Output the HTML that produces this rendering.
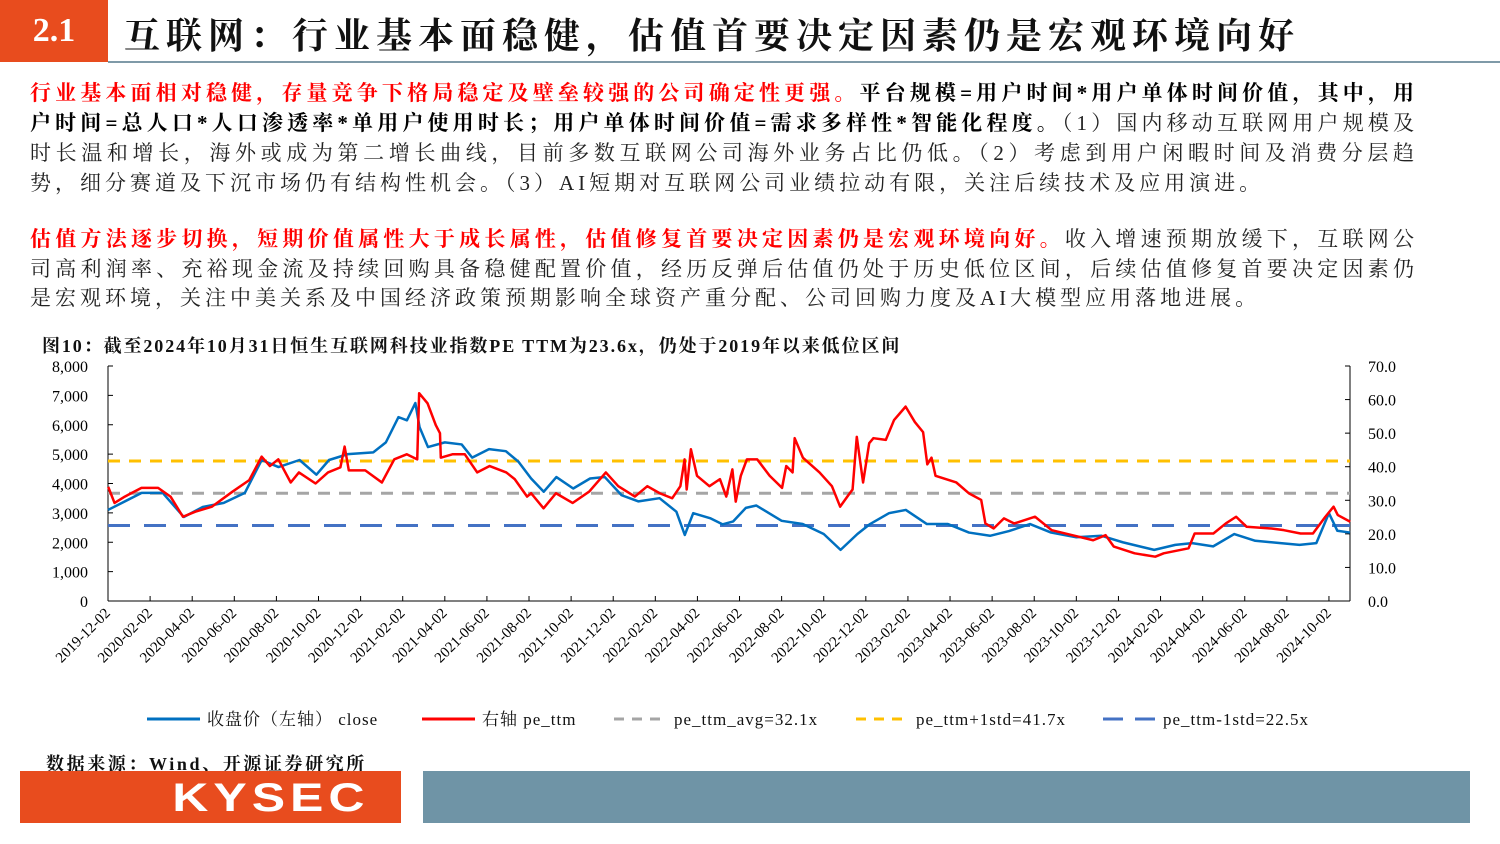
<!DOCTYPE html>
<html><head><meta charset="utf-8">
<style>
body{margin:0;width:1500px;height:844px;background:#fff;position:relative;overflow:hidden;font-family:"Liberation Serif","Noto Serif CJK SC",serif;}
.abs{position:absolute;}
.line{position:absolute;left:30px;width:1384px;font-size:21px;line-height:30px;height:30px;text-align:justify;text-align-last:justify;white-space:nowrap;color:#222;}
.last{text-align-last:left;letter-spacing:4px;}
.r{color:#ff0000;font-weight:bold;}
.b{font-weight:bold;color:#000;}
</style></head><body>
<div class="abs" style="left:0;top:0;width:108px;height:62px;background:#e84c1e;color:#fff;font-size:34px;font-weight:bold;line-height:62px;text-align:center;">2.1</div>
<div class="abs" style="left:124px;top:8px;font-size:36px;font-weight:bold;letter-spacing:6px;color:#111;white-space:nowrap;">互联网：行业基本面稳健，估值首要决定因素仍是宏观环境向好</div>
<div class="abs" style="left:108px;top:61px;width:1392px;height:2px;background:#7f9aa8;"></div>

<div>
<div class="line" style="top:78px"><span class="r">行业基本面相对稳健，存量竞争下格局稳定及壁垒较强的公司确定性更强。</span><span class="b">平台规模=用户时间*用户单体时间价值，其中，用</span></div>
<div class="line" style="top:108px"><span class="b">户时间=总人口*人口渗透率*单用户使用时长；用户单体时间价值=需求多样性*智能化程度。</span>（1）国内移动互联网用户规模及</div>
<div class="line" style="top:138px">时长温和增长，海外或成为第二增长曲线，目前多数互联网公司海外业务占比仍低。（2）考虑到用户闲暇时间及消费分层趋</div>
<div class="line last" style="top:168px">势，细分赛道及下沉市场仍有结构性机会。（3）AI短期对互联网公司业绩拉动有限，关注后续技术及应用演进。</div>
</div>
<div>
<div class="line" style="top:224px"><span class="r">估值方法逐步切换，短期价值属性大于成长属性，估值修复首要决定因素仍是宏观环境向好。</span>收入增速预期放缓下，互联网公</div>
<div class="line" style="top:254px">司高利润率、充裕现金流及持续回购具备稳健配置价值，经历反弹后估值仍处于历史低位区间，后续估值修复首要决定因素仍</div>
<div class="line last" style="top:283px">是宏观环境，关注中美关系及中国经济政策预期影响全球资产重分配、公司回购力度及AI大模型应用落地进展。</div>
</div>

<div class="abs" style="left:42px;top:332px;font-size:18px;font-weight:bold;letter-spacing:1.9px;color:#111;white-space:nowrap;">图10：截至2024年10月31日恒生互联网科技业指数PE TTM为23.6x，仍处于2019年以来低位区间</div>

<svg id="chart" class="abs" style="left:0;top:0" width="1500" height="844"></svg>

<div class="abs" style="left:46px;top:750px;font-size:18px;font-weight:bold;letter-spacing:2.6px;color:#111;white-space:nowrap;">数据来源：Wind、开源证券研究所</div>
<div class="abs" style="left:20px;top:771px;width:381px;height:52px;background:#e84c1e;color:#fff;font-family:'Liberation Sans',sans-serif;font-weight:bold;font-size:40px;line-height:54px;text-align:center;letter-spacing:4px;"><span style="display:inline-block;transform:scaleX(1.25);margin-left:110px;text-align:left;width:150px;">KYSEC</span></div>
<div class="abs" style="left:423px;top:771px;width:1047px;height:52px;background:#6f94a6;"></div>

<script>
const closeT=[0,1.6,2.6,3.6,4.5,5.5,6.5,7.3,8.1,9.1,9.9,10.5,11.4,12.6,13.2,13.8,14.2,14.6,14.8,15.2,16.0,16.8,17.3,18.1,18.9,19.5,20.1,20.7,21.3,22.1,22.9,23.6,24.4,25.2,26.2,27.0,27.4,27.8,28.6,29.2,29.7,30.3,30.8,32.0,33.0,34.0,34.8,35.6,36.2,37.1,37.9,38.9,39.9,40.9,41.9,42.8,43.8,44.8,46.0,47.2,48.2,49.7,50.7,51.5,52.5,53.5,54.5,55.7,56.6,57.4,58.0,58.4,59.0];
const closeV=[3100,3680,3680,2860,3200,3340,3680,4800,4560,4800,4300,4800,5000,5060,5400,6260,6150,6740,5920,5240,5400,5330,4880,5170,5100,4740,4170,3720,4220,3830,4170,4220,3600,3390,3500,3040,2250,2990,2820,2610,2710,3170,3250,2730,2620,2280,1740,2280,2620,2990,3100,2620,2620,2330,2220,2380,2620,2330,2170,2220,2000,1740,1910,1970,1860,2280,2050,1970,1910,1970,2990,2390,2330];
const peT=[0.01,0.31,0.80,1.59,2.38,2.97,3.56,4.15,4.94,5.92,6.71,7.30,7.69,8.09,8.68,9.07,9.86,10.45,11.04,11.24,11.44,12.22,13.01,13.60,14.19,14.69,14.78,15.18,15.57,15.77,15.81,16.36,16.95,17.54,18.13,18.92,19.32,19.91,20.10,20.69,21.28,22.07,22.86,23.65,24.24,25.03,25.62,26.21,26.80,27.19,27.39,27.49,27.69,27.98,28.57,29.07,29.37,29.66,29.82,30.06,30.35,30.84,31.43,32.02,32.22,32.52,32.62,33.01,33.80,34.39,34.78,35.18,35.37,35.57,35.87,36.16,36.36,36.95,37.34,37.89,38.33,38.72,38.92,39.12,39.31,40.30,40.89,41.48,41.68,42.07,42.56,43.05,44.04,44.83,45.81,46.80,47.39,47.78,48.77,49.75,50.15,51.33,51.62,52.51,53.10,53.59,54.09,55.27,55.86,56.65,57.24,57.83,58.22,58.42,59.01];
const peV=[34.0,29.2,31.1,33.7,33.7,31.1,25.1,26.6,28.1,32.6,36.0,43.0,40.2,42.2,35.3,38.3,35.0,38.3,39.8,46.0,38.9,38.9,35.3,42.2,43.7,42.2,61.9,58.9,52.4,50.0,42.7,43.7,43.7,38.3,40.2,38.3,36.3,31.1,32.1,27.6,32.1,29.2,32.6,38.3,34.2,31.1,34.2,32.1,30.6,34.2,42.2,33.2,45.2,37.3,34.2,36.3,31.1,39.2,29.6,37.3,42.2,42.2,37.3,33.7,40.2,38.3,48.5,42.7,38.3,34.2,28.1,31.6,33.2,48.9,35.3,47.0,48.5,48.0,53.9,57.9,53.3,50.3,40.7,42.7,37.3,35.3,32.1,30.1,23.1,21.6,24.6,23.1,25.1,21.1,19.6,18.1,19.6,16.2,14.2,13.2,14.2,15.7,20.1,20.1,23.1,25.1,22.1,21.6,21.1,20.1,20.1,25.1,28.1,25.6,23.6];
const leftTicks=[0,1000,2000,3000,4000,5000,6000,7000,8000];
const rightTicks=[0,10,20,30,40,50,60,70];
const refNames=["pe_ttm_avg=32.1x","pe_ttm+1std=41.7x","pe_ttm-1std=22.5x"];
const refValues=[32.1,41.7,22.5];
const refColors=["#a5a5a5","#ffc000","#4472c4"];
const xLabels=[];
for(let i=0;i<30;i++){const m=11+2*i;const y=2019+Math.floor(m/12);const mm=(m%12)+1;xLabels.push(y+"-"+String(mm).padStart(2,"0")+"-02");}

const X0=108,X1=1350,Y0=601,Y1=366,TMAX=59;
const xs=t=>X0+t/TMAX*(X1-X0);
const yl=v=>Y0-v/8000*(Y0-Y1);
const yr=v=>Y0-v/70*(Y0-Y1);
const svg=document.getElementById('chart');
const NS="http://www.w3.org/2000/svg";
function mk(tag,attrs){const e=document.createElementNS(NS,tag);for(const k in attrs)e.setAttribute(k,attrs[k]);svg.appendChild(e);return e;}
const FF='"Liberation Serif","Noto Serif CJK SC",serif';

let a=mk('line',{x1:X0,y1:Y1,x2:X0,y2:Y0,stroke:'#000','stroke-width':1});


a=mk('line',{x1:X1,y1:Y1,x2:X1,y2:Y0,stroke:'#000','stroke-width':1});


a=mk('line',{x1:X0,y1:Y0,x2:X1,y2:Y0,stroke:'#000','stroke-width':1});



leftTicks.forEach(v=>{
  mk('line',{x1:X0,y1:yl(v),x2:X0+5,y2:yl(v),stroke:'#000'});
  const t=mk('text',{x:88,y:yl(v)+6,'text-anchor':'end','font-size':16,'font-family':FF,fill:'#000'});
  t.textContent=v.toLocaleString('en-US');
  
  
});
rightTicks.forEach(v=>{
  mk('line',{x1:X1-5,y1:yr(v),x2:X1,y2:yr(v),stroke:'#000'});
  const t=mk('text',{x:1368,y:yr(v)+6,'font-size':16,'font-family':FF,fill:'#000'});
  t.textContent=v.toFixed(1);
  
  
});
xLabels.forEach((s,i)=>{
  const x=xs(i*2);
  mk('line',{x1:x,y1:Y0,x2:x,y2:Y0-5,stroke:'#000'});
  const t=mk('text',{x:x+3,y:614,'text-anchor':'end','font-size':15,'font-family':FF,fill:'#000',transform:`rotate(-45 ${x+3} 614)`});
  t.textContent=s;
  
  
});
refValues.forEach((v,i)=>{
  const l=mk('line',{x1:X0,y1:yr(v),x2:X1,y2:yr(v),stroke:refColors[i],'stroke-width':3,'stroke-dasharray':i==2?'22 14':'12 9'});
  
  
});
let p=mk('polyline',{points:closeT.map((t,i)=>xs(t)+','+yl(closeV[i])).join(' '),fill:'none',stroke:'#0070c0','stroke-width':2.5,'stroke-linejoin':'round'});


p=mk('polyline',{points:peT.map((t,i)=>xs(t)+','+yr(peV[i])).join(' '),fill:'none',stroke:'#ff0000','stroke-width':2.5,'stroke-linejoin':'round'});



const legend=[
  {x:147,c:'#0070c0',d:'',label:'收盘价（左轴） close'},
  {x:422,c:'#ff0000',d:'',label:'右轴 pe_ttm'},
  {x:614,c:refColors[0],d:'10 8',label:refNames[0]},
  {x:856,c:refColors[1],d:'10 8',label:refNames[1]},
  {x:1103,c:refColors[2],d:'20 12',label:refNames[2]}
];
legend.forEach(e=>{
  const l=mk('line',{x1:e.x,y1:719,x2:e.x+53,y2:719,stroke:e.c,'stroke-width':3,'stroke-dasharray':e.d||'none'});
  
  
  const t=mk('text',{x:e.x+60,y:725,'font-size':17,'font-family':FF,fill:'#111','letter-spacing':1});
  t.textContent=e.label;
  
  
});
</script>
</body></html>
